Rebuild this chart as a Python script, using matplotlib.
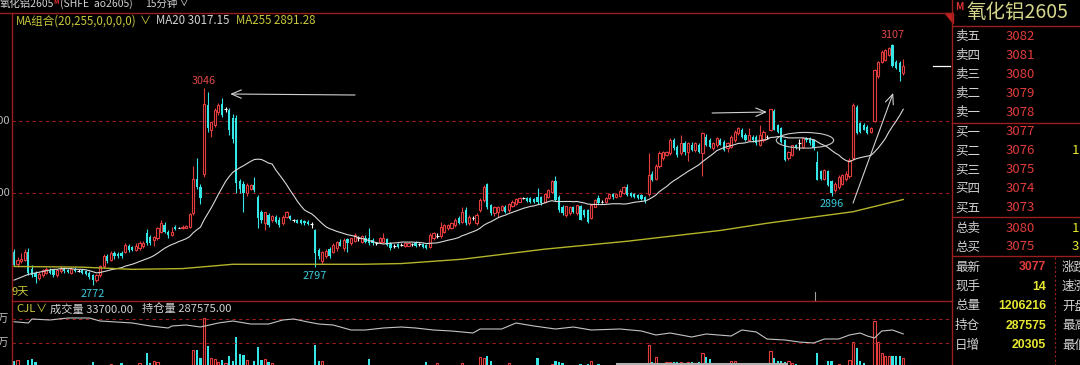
import matplotlib
matplotlib.use('Agg')
import matplotlib.pyplot as plt
import numpy as np
import pandas as pd
from matplotlib.patches import Ellipse, Polygon
from matplotlib.lines import Line2D

plt.rcParams['font.family'] = ['Noto Sans CJK SC', 'DejaVu Sans']

# ---------------- data (15-minute candles) ----------------
opens = [
    2818,2802,2805,2807,2818,2795,2789,2782,2786,2789, 2793,2793,2786,2791,2794,2793,2789,2794,2792,2793,
    2791,2789,2786,2779,2786,2798,2812,2807,2817,2815, 2817,2818,2826,2825,2821,2823,2826,2844,2839,2835,
    2837,2846,2855,2846,2842,2853,2852,2851,2852,2853, 2872,2920,2909,2926,3022,2988,2995,3012,3024,3016,
    3015,3004,
    3004,2916,2913,2900,2906,2911,2895,2874,2858,2869, 2862,2867,2863,2858,2867,2868,2862,2862,2862,2861,
    2860,2857,2849,2821,2805,2812,2822,2818,2823,2832, 2823,2836,2830,2834,2837,
    2832,2838,2837,2835,2830,2832,2832,2836,2830,2826, 2829,2828,2826,2827,2829,2831,2829,2829,2828,2825,
    2837,2840,2840,2846,2851,2852,2855,2865,2860,2876,
    2858,2865,2858,2876,2890,2912,2883,2872,2874,2877, 2881,2876,2882,2885,2888,2893,2893,2893,2891,2895,
    2894,2888,2895,2902,2916,2895,2881,2869,2872,2880, 2872,2882,2876,2876,2865,2881,2893,2888,2888,2893,
    2898,2894,2896,2900,2908,2900,2899,2897,2897,2895, 2898,2926,2920,2937,2948,2953,2955,2974,2964,2955,
    2969,
    2957,2967,2960,2967,2955,2978,2974,2962,2966,2974, 2971,2962,2964,2973,2983,2988,2981,2974,2978,2978,
    2967,2973,2978,2988,3014,2994,2990,2973,2948,2953, 2966,2969,2964,2976,2976,2973,2943,2930,2920,2930,
    2916,2904,2908,2913,2919,2923,2948,3020,2997,2995, 2992,2985,3000,3062,3082,3085,3092,3105,3082,3080,
    3066]
highs = [
    2822,2811,2816,2822,2823,2800,2791,2790,2794,2797, 2796,2795,2794,2799,2797,2795,2797,2797,2795,2795,
    2793,2791,2788,2788,2800,2815,2815,2820,2820,2818, 2820,2830,2829,2827,2830,2833,2833,2850,2842,2840,
    2853,2862,2860,2848,2853,2856,2853,2855,2856,2872, 2937,2948,2912,3046,3040,2998,3018,3025,3032,3019,
    3018,3010,
    3008,2920,2916,2914,2913,2922,2897,2876,2874,2872, 2870,2870,2866,2870,2875,2870,2864,2864,2864,2863,
    2862,2860,2850,2824,2820,2822,2825,2830,2834,2836, 2837,2838,2838,2845,2840,
    2842,2842,2851,2837,2832,2839,2844,2838,2832,2829, 2830,2830,2831,2831,2831,2833,2831,2830,2829,2845,
    2846,2844,2860,2857,2857,2860,2865,2868,2880,2880,
    2869,2868,2872,2893,2911,2914,2885,2882,2882,2884, 2883,2886,2890,2893,2894,2895,2894,2894,2893,2907,
    2896,2900,2906,2918,2923,2897,2883,2882,2882,2882, 2884,2884,2878,2878,2885,2891,2897,2890,2894,2900,
    2900,2900,2905,2910,2912,2902,2900,2899,2898,2896, 2955,2930,2940,2958,2959,2959,2976,2977,2966,2981,
    2972,
    2971,2971,2971,2970,2985,2982,2976,2971,2978,2977, 2974,2971,2980,2987,2992,2990,2983,2990,2980,2980,
    2995,2987,2981,3016,3016,2996,2992,2975,2958,2967, 2968,2975,2977,2978,2978,2975,2958,2932,2934,2932,
    2918,2915,2925,2927,2930,2948,3025,3022,2999,2997, 2994,2992,3072,3084,3098,3100,3103,3107,3085,3083,
    3086]
lows = [
    2798,2797,2803,2805,2786,2784,2775,2779,2784,2787, 2788,2784,2783,2789,2789,2789,2788,2790,2790,2788,
    2786,2781,2772,2776,2784,2796,2803,2805,2809,2810, 2810,2816,2818,2819,2819,2821,2824,2828,2828,2826,
    2835,2844,2844,2838,2840,2849,2851,2850,2851,2851, 2870,2905,2885,2922,2985,2978,2992,3009,3006,3013,
    2980,2969,
    2900,2900,2874,2896,2904,2902,2851,2858,2849,2853, 2860,2858,2853,2855,2865,2862,2860,2858,2857,2856,
    2855,2852,2797,2808,2802,2810,2810,2816,2820,2826, 2820,2818,2828,2832,2834,
    2830,2830,2828,2828,2828,2830,2830,2826,2821,2823, 2824,2826,2825,2826,2827,2825,2827,2824,2822,2824,
    2835,2837,2838,2844,2849,2850,2853,2857,2858,2855,
    2855,2862,2855,2874,2888,2878,2870,2868,2867,2875, 2872,2874,2880,2883,2887,2891,2888,2886,2886,2885,
    2884,2886,2893,2900,2889,2874,2870,2867,2870,2872, 2870,2862,2867,2858,2864,2880,2885,2886,2886,2892,
    2892,2893,2895,2899,2896,2895,2893,2891,2890,2886, 2896,2916,2918,2935,2946,2951,2953,2960,2950,2953,
    2953,
    2944,2958,2957,2955,2923,2965,2963,2960,2964,2966, 2958,2957,2962,2971,2981,2976,2972,2972,2971,2967,
    2965,2971,2975,2986,2987,2983,2969,2945,2946,2951, 2961,2960,2962,2971,2967,2960,2918,2918,2918,2910,
    2896,2902,2906,2911,2917,2921,2946,2982,2984,2987, 2982,2983,2998,3060,3080,3083,3090,3075,3072,3055,
    3064]
closes = [
    2800,2807,2809,2818,2789,2786,2784,2788,2793,2795, 2789,2786,2793,2795,2791,2790,2794,2791,2792,2789,
    2788,2784,2779,2786,2798,2812,2805,2817,2812,2812, 2812,2828,2821,2821,2826,2830,2830,2830,2830,2839,
    2851,2858,2846,2842,2846,2850,2852,2853,2854,2871, 2920,2909,2893,3024,2990,2999,3015,3022,3008,3016,
    2987,2975,
    2914,2906,2900,2911,2911,2904,2865,2862,2873,2856, 2868,2860,2856,2867,2873,2864,2862,2859,2859,2858,
    2857,2857,2816,2812,2818,2820,2812,2828,2832,2827, 2835,2830,2837,2842,2837,
    2840,2832,2830,2830,2830,2837,2838,2828,2823,2826, 2825,2828,2830,2830,2829,2826,2829,2825,2824,2842,
    2844,2840,2853,2855,2855,2858,2862,2859,2874,2858,
    2867,2865,2869,2890,2909,2881,2872,2880,2880,2882, 2874,2885,2888,2891,2893,2893,2889,2888,2888,2888,
    2886,2899,2904,2916,2890,2876,2872,2882,2881,2874, 2883,2862,2870,2860,2883,2890,2886,2888,2893,2899,
    2894,2899,2903,2908,2897,2896,2894,2893,2891,2889, 2925,2918,2937,2955,2957,2957,2974,2962,2953,2969,
    2957,
    2969,2960,2969,2957,2983,2967,2964,2969,2976,2967, 2960,2969,2978,2985,2990,2978,2974,2981,2974,2969,
    2980,2985,2978,3016,2988,2985,2971,2946,2957,2966, 2963,2969,2976,2973,2969,2962,2918,2920,2932,2911,
    2900,2913,2922,2925,2927,2946,3022,2983,2985,2988, 2983,2990,3071,3082,3096,3099,3101,3076,3073,3068,
    3077]

# MA20 for the first 19 bars (history before the window)
ma20_head = [2779,2781,2783,2785,2787,2788,2789,2790,2791,2792,
             2793,2794,2794,2795,2795,2795,2795,2794,2794]
# MA255 read at points along the yellow line (bar index, value)
ma255_idx = [0, 19, 33, 47, 61, 97, 108, 125, 148, 171, 197, 210, 234, 248]
ma255_val = [2798, 2797, 2794, 2795, 2801, 2801, 2802, 2808, 2822, 2833, 2848, 2858, 2874, 2891]

# volume of the bars visible above the bottom edge (bar index, contracts)
vol_idx = [0,1,4,5,6,22,27,30,35,37,38,39,40,50,51,52,53,54,55,56,57,58,59,60,61,62,63,64,65,67,68,
           69,70,71,72,84,85,86,99,115,118,125,130,131,132,133,138,146,150,151,152,153,158,160,161,163,
           177,178,179,182,183,184,185,186,187,188,189,191,192,193,194,200,201,211,212,213,214,215,216,
           217,218,224,227,228,230,233,234,235,236,237,240,241,242,243,244,245,246,247,248]
vol_val = [31000,32000,32000,33000,30000,30000,28000,29000,29000,39000,29000,31000,30000,42000,42000,
           34000,74000,46000,34000,33000,30000,32000,29000,36000,31000,55000,38000,37000,32000,31000,
           45000,32000,33000,30000,29000,47000,31000,31000,33000,30000,29000,29000,35000,34000,36000,
           31000,29000,34000,28000,31000,30000,29000,28000,28000,31000,28000,47000,30000,35000,30000,
           30000,30000,30000,30000,29000,30000,30000,30000,39000,35000,33000,31000,31000,41000,34000,
           31000,31000,30000,31000,29000,28000,39000,31000,31000,28000,32000,50000,44000,31000,29000,
           71000,50000,39000,36000,36000,36000,36000,36000,33700]
# open interest (bar index, contracts)
oi_idx = [0,4,5,10,15,21,24,33,38,43,44,48,52,57,61,66,71,75,78,82,85,89,94,98,103,108,112,117,122,
          128,130,136,140,145,151,156,161,169,175,179,183,189,193,200,203,207,210,215,219,223,226,230,
          233,236,238,240,242,245,248]
oi_val = [297750,296670,300000,299170,300830,300830,298330,296670,294170,292500,294170,295000,293330,
          296670,298330,295830,295830,299170,300000,297500,295830,295000,290830,290830,292500,293330,
          292500,290830,290000,288330,291670,291670,296670,294170,291670,293330,290830,291670,290000,
          286670,288330,285000,287500,285830,290830,289170,283330,282500,280830,280000,283330,283330,
          286670,288330,285830,284170,290000,290830,287575]

# order book panel
book_labels = ['卖五', '卖四', '卖三', '卖二', '卖一', '买一', '买二', '买三', '买四', '买五']
book_prices = ['3082', '3081', '3080', '3079', '3078', '3077', '3076', '3075', '3074', '3073']
book_sizes = ['', '', '', '', '', '', '1', '', '', '']
total_labels = ['总卖', '总买']
total_prices = ['3080', '3075']
total_sizes = ['1', '3']
stat_labels = ['最新', '现手', '总量', '持仓', '日增']
stat_values = ['3077', '14', '1206216', '287575', '20305']
stat_labels2 = ['涨跌', '速涨', '开盘', '最高', '最低']

# ---------------- styling ----------------
W, H = 1080, 365
RED = '#e23c3c'
CYAN = '#35e6e6'
LINE_RED = '#9a1e1e'
GRAY = '#d2d2d2'
YELLOW = '#c8c83c'
BVAL = '#e8e832'

o = np.array(opens, float); h = np.array(highs, float)
l = np.array(lows, float); c = np.array(closes, float)
n = len(c)
x = np.arange(n)
up = c > o; dn = c < o; dj = c == o

fig = plt.figure(figsize=(W / 100, H / 100), dpi=100, facecolor='black')

def frect(x0, y0, x1, y1):
    return [x0 / W, 1 - y1 / H, (x1 - x0) / W, (y1 - y0) / H]

def fx(px):
    return px / W

def fy(py):
    return 1 - py / H

XLIM = (-0.56, 261.6)

# ---- price panel ----
ax = fig.add_axes(frect(12, 13, 952, 301))
ax.set_xlim(*XLIM)
ax.set_ylim(2750, 3150)
ax.set_facecolor('black')
ax.axis('off')

for lvl in (3000, 2900):
    ax.axhline(lvl, color=LINE_RED, ls=(0, (3, 3)), lw=0.8, zorder=1)

bw = 0.62
ax.vlines(x[up], l[up], h[up], color=RED, lw=0.8, zorder=2)
ax.bar(x[up], c[up] - o[up], bottom=o[up], width=bw, facecolor='black', edgecolor=RED, lw=0.8, zorder=3)
ax.vlines(x[dn], l[dn], h[dn], color=CYAN, lw=0.8, zorder=2)
ax.bar(x[dn], o[dn] - c[dn], bottom=c[dn], width=bw, color=CYAN, lw=0, zorder=3)
ax.vlines(x[dj], l[dj], h[dj], color='white', lw=0.8, zorder=2)
ax.hlines(c[dj], x[dj] - 0.4, x[dj] + 0.4, color='white', lw=0.8, zorder=3)

ma20 = pd.Series(c).rolling(20).mean().to_numpy()
ma20[:19] = ma20_head
ax.plot(x, ma20, color='#d8d8d8', lw=0.8, zorder=4)
ax.plot(ma255_idx, ma255_val, color='#b4b42a', lw=1.0, zorder=4)

# last price marker
ax.plot([256.3, 261.1], [c[-1], c[-1]], color='white', lw=0.9, clip_on=False)

# high / low labels
def lab(i, val, dy, va, col):
    ax.annotate(f'{int(val)}', (i, val), xytext=(0, dy), textcoords='offset points',
                ha='center', va=va, color=col, fontsize=7.8, zorder=6)

RED_T = '#e04848'; CYAN_T = '#3ccadc'
lab(53, h[53], 1.5, 'bottom', RED_T)
lab(245, h[245], 2.5, 'bottom', RED_T)
lab(22, l[22], -2.5, 'top', CYAN_T)
lab(84, l[84], -3.0, 'top', CYAN_T)
lab(228, l[228], -2.5, 'top', CYAN_T)

# hand-drawn marks
ARW = dict(arrowstyle='->,head_length=0.7,head_width=0.3', color='#d0d0d0', lw=0.8, shrinkA=0, shrinkB=0)
ax.annotate('', xy=(60.3, 3037.5), xytext=(95.1, 3036.1), arrowprops=ARW)
ax.annotate('', xy=(210.0, 3012.5), xytext=(194.7, 3011.1), arrowprops=ARW)
ax.annotate('', xy=(245.2, 3039.0), xytext=(234.0, 2886.0), arrowprops=ARW)
ax.add_patch(Ellipse((220.6, 2973.2), width=16.0, height=21.8, fill=False, ec='#c8c8c8', lw=0.8, zorder=5))

# ---- volume / open interest panel ----
axv = fig.add_axes(frect(12, 301, 952, 365), label='vol')
axv.set_xlim(*XLIM)
axv.set_ylim(27000, 91000)
axv.axis('off')
vi = np.array(vol_idx); vv = np.array(vol_val, float)
vup = c[vi] >= o[vi]
axv.bar(vi[vup], vv[vup], width=bw, facecolor='black', edgecolor=RED, lw=0.8)
axv.bar(vi[~vup], vv[~vup], width=bw, color=CYAN, lw=0)

axo = fig.add_axes(frect(12, 301, 952, 365), label='oi')
axo.set_xlim(*XLIM)
axo.set_ylim(261667, 315000)
axo.axis('off')
axo.patch.set_alpha(0)
for lvl in (300000, 280000):
    axo.axhline(lvl, color=LINE_RED, ls=(0, (3, 3)), lw=0.8, zorder=1)
axo.plot(oi_idx, oi_val, color='#c4c4c4', lw=0.8)

# ---- frame lines ----
def fline(xs, ys, col=LINE_RED, lw=1.0, ls='-'):
    fig.add_artist(Line2D([fx(v) for v in xs], [fy(v) for v in ys], color=col, lw=lw, ls=ls))

fline([0, 952], [13, 13])
fline([12, 12], [13, 365])
fline([12, 952], [301, 301])
fline([952, 952], [0, 365])
for yy in (26, 123, 217, 256):
    fline([952, 1080], [yy, yy])
fline([1055, 1055], [257, 365], ls=(0, (2, 2)), lw=0.8)
fline([815, 815], [292, 300], col='#a0a0a0', lw=0.8)
fline([617, 787], [364, 364], col='#b0b0b0', lw=1.5)
fig.add_artist(Polygon([(fx(945), fy(13)), (fx(953), fy(13)), (fx(953), fy(23))],
                       closed=True, color='#c02020', transform=fig.transFigure))

# ---- texts ----
def t(px, py, s, col=GRAY, fs=7.5, ha='left', **kw):
    fig.text(fx(px), fy(py), s, color=col, fontsize=fs, ha=ha, va='center', **kw)

t(0, 4, '氧化铝2605')
t(53.5, 2, 'M', col='#e03030', fs=4.5, weight='bold')
t(60, 4, '(SHFE  ao2605)')
t(145, 4, '15分钟')
t(179, 4, '∨')
t(16, 21, 'MA组合(20,255,0,0,0,0)', col=YELLOW, fs=8.3)
t(140, 21, '∨', col=YELLOW, fs=8)
t(156, 21, 'MA20 3017.15', col=GRAY, fs=8.3)
t(236, 21, 'MA255 2891.28', col=YELLOW, fs=8.3)
t(10, 121, '3000', col='#bcbcbc', ha='right', fs=8)
t(10, 193, '2900', col='#bcbcbc', ha='right', fs=8)
t(12, 292, '9天', col=YELLOW, fs=8)
t(9, 319, '30万', col='#bcbcbc', ha='right', fs=8)
t(9, 343, '28万', col='#bcbcbc', ha='right', fs=8)
t(16, 309, 'CJL', col=YELLOW, fs=8.2)
t(36, 309, '∨', col=YELLOW, fs=8)
t(50, 309, '成交量 33700.00', fs=8.1)
t(142, 309, '持仓量 287575.00', fs=8.1)

# right panel
t(955, 7, 'M', col='#e03030', fs=7, weight='bold')
t(966, 13, '氧化铝2605', col='#d6d68c', fs=14)
row_y = [36.7, 55.7, 74.3, 93.3, 112.5, 131.5, 150.5, 169.5, 188.5, 207.5]
for yy, a, b, s in zip(row_y, book_labels, book_prices, book_sizes):
    t(955, yy, a, col=GRAY, fs=9)
    t(1006, yy, b, col=RED, fs=9.5)
    if s:
        t(1072, yy, s, col=BVAL, fs=9.5)
for yy, a, b, s in zip([228, 247], total_labels, total_prices, total_sizes):
    t(955, yy, a, col=GRAY, fs=9)
    t(1006, yy, b, col=RED, fs=9.5)
    t(1072, yy, s, col=BVAL, fs=9.5)
stat_y = [267, 286.7, 306, 326, 345.5]
for k, (yy, a, v, a2) in enumerate(zip(stat_y, stat_labels, stat_values, stat_labels2)):
    t(955, yy, a, col=GRAY, fs=9)
    t(1046, yy, v, col=(RED if k == 0 else BVAL), fs=8.8, ha='right', weight='bold',
      family=['Liberation Sans', 'DejaVu Sans'])
    t(1062, yy, a2, col=GRAY, fs=9)

fig.savefig('out.png', dpi=100, facecolor='black')
